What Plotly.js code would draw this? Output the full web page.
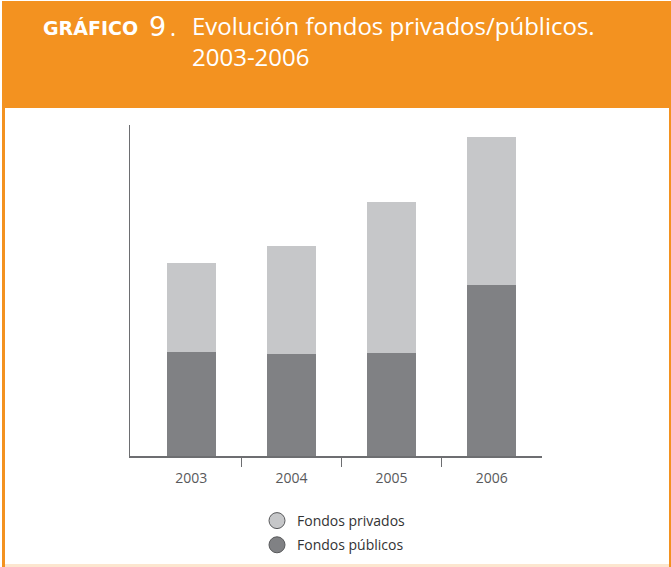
<!DOCTYPE html>
<html><head><meta charset="utf-8">
<script src="https://cdn.plot.ly/plotly-3.0.1.min.js"></script>
<style>html,body{margin:0;padding:0;background:#fff;}#chart{width:671px;height:567px;}</style>
</head><body><div id="chart"></div>
<script>
var years = ['2003', '2004', '2005', '2006'];
var yearPos = [0, 1, 2, 3];
var dividers = [0.5, 1.5, 2.5];
var publicos = [104, 102, 103, 171];
var privados = [89, 108, 151, 148];

var L = 130, R = 542, T = 125, B = 456, W = 671, H = 567;
function px(x) { return (x - L) / (R - L); }
function py(y) { return (B - y) / (B - T); }

var orange = '#F39220';
var dark = '#808184', light = '#C6C7C9';

var data = [
  {type: 'bar', x: yearPos, y: publicos, width: 0.49, marker: {color: dark}, showlegend: false, hoverinfo: 'skip'},
  {type: 'bar', x: yearPos, y: privados, width: 0.49, marker: {color: light}, showlegend: false, hoverinfo: 'skip'},
  {type: 'scatter', mode: 'markers', x: [null], y: [null], name: 'Fondos privados', legendgroup: 'a',
   marker: {symbol: 'circle', size: 16, color: light, line: {color: '#58595B', width: 1}}},
  {type: 'scatter', mode: 'markers', x: [null], y: [null], name: 'Fondos públicos', legendgroup: 'b',
   marker: {symbol: 'circle', size: 16, color: dark, line: {color: '#58595B', width: 1}}},
  {type: 'scatter', mode: 'markers', x: [], y: [], xaxis: 'x2', showlegend: false, hoverinfo: 'skip'}
];

var layout = {
  width: W, height: H,
  margin: {l: L, r: W - R, t: T, b: H - B, pad: 0, autoexpand: false},
  paper_bgcolor: '#fff', plot_bgcolor: 'rgba(0,0,0,0)',
  barmode: 'stack',
  font: {family: 'Open Sans, Noto Sans, sans-serif', color: '#58595B'},
  xaxis: {
    range: [-0.613, 3.503], tickvals: yearPos, ticktext: years,
    showline: true, linecolor: '#6D6E71', linewidth: 1.5,
    ticks: 'outside', ticklen: 9, tickcolor: 'rgba(0,0,0,0)',
    tickfont: {size: 14, color: '#58595B'},
    showgrid: false, zeroline: false, fixedrange: true, automargin: false
  },
  xaxis2: {
    overlaying: 'x', anchor: 'y', side: 'bottom',
    range: [-0.613, 3.503], tickvals: dividers,
    ticks: 'outside', ticklen: 10, tickwidth: 1, tickcolor: '#6D6E71',
    showticklabels: false, showline: false, showgrid: false, zeroline: false, automargin: false
  },
  yaxis: {
    range: [0, 331], showline: true, linecolor: '#6D6E71', linewidth: 1.5,
    ticks: '', showticklabels: false, showgrid: false, zeroline: false, automargin: false
  },
  legend: {
    x: px(257), y: py(505), xanchor: 'left', yanchor: 'top',
    font: {size: 14, color: '#333333'}, bgcolor: 'rgba(0,0,0,0)',
    traceorder: 'grouped', tracegroupgap: 3, itemclick: false
  },
  shapes: [
    {type: 'rect', xref: 'paper', yref: 'paper', x0: px(2), x1: px(671), y0: py(1), y1: py(567),
     fillcolor: orange, line: {width: 0}, layer: 'below'},
    {type: 'rect', xref: 'paper', yref: 'paper', x0: px(5), x1: px(669), y0: py(108), y1: py(564),
     fillcolor: '#ffffff', line: {width: 0}, layer: 'below'},
    {type: 'rect', xref: 'paper', yref: 'paper', x0: px(5), x1: px(669), y0: py(564), y1: py(567),
     fillcolor: '#FCE6CF', line: {width: 0}, layer: 'below'}
  ],
  annotations: [
    {xref: 'paper', yref: 'paper', x: px(41), y: py(15), xanchor: 'left', yanchor: 'top',
     text: '<b>GRÁFICO</b>', showarrow: false,
     font: {family: 'DejaVu Sans, sans-serif', size: 19, color: '#fff'}},
    {xref: 'paper', yref: 'paper', x: px(147), y: py(9), xanchor: 'left', yanchor: 'top',
     text: '9', showarrow: false,
     font: {family: 'DejaVu Sans, sans-serif', size: 27, color: '#fff'}},
    {xref: 'paper', yref: 'paper', x: px(168), y: py(9), xanchor: 'left', yanchor: 'top',
     text: '.', showarrow: false,
     font: {family: 'Open Sans, sans-serif', size: 23, color: '#fff'}},
    {xref: 'paper', yref: 'paper', x: px(190), y: py(7), xanchor: 'left', yanchor: 'top', align: 'left',
     text: 'Evolución fondos privados/públicos.<br>2003-2006', showarrow: false,
     font: {family: 'Open Sans, sans-serif', size: 24, color: '#fff'}}
  ]
};

Plotly.newPlot('chart', data, layout, {displayModeBar: false, staticPlot: true});
</script></body></html>
